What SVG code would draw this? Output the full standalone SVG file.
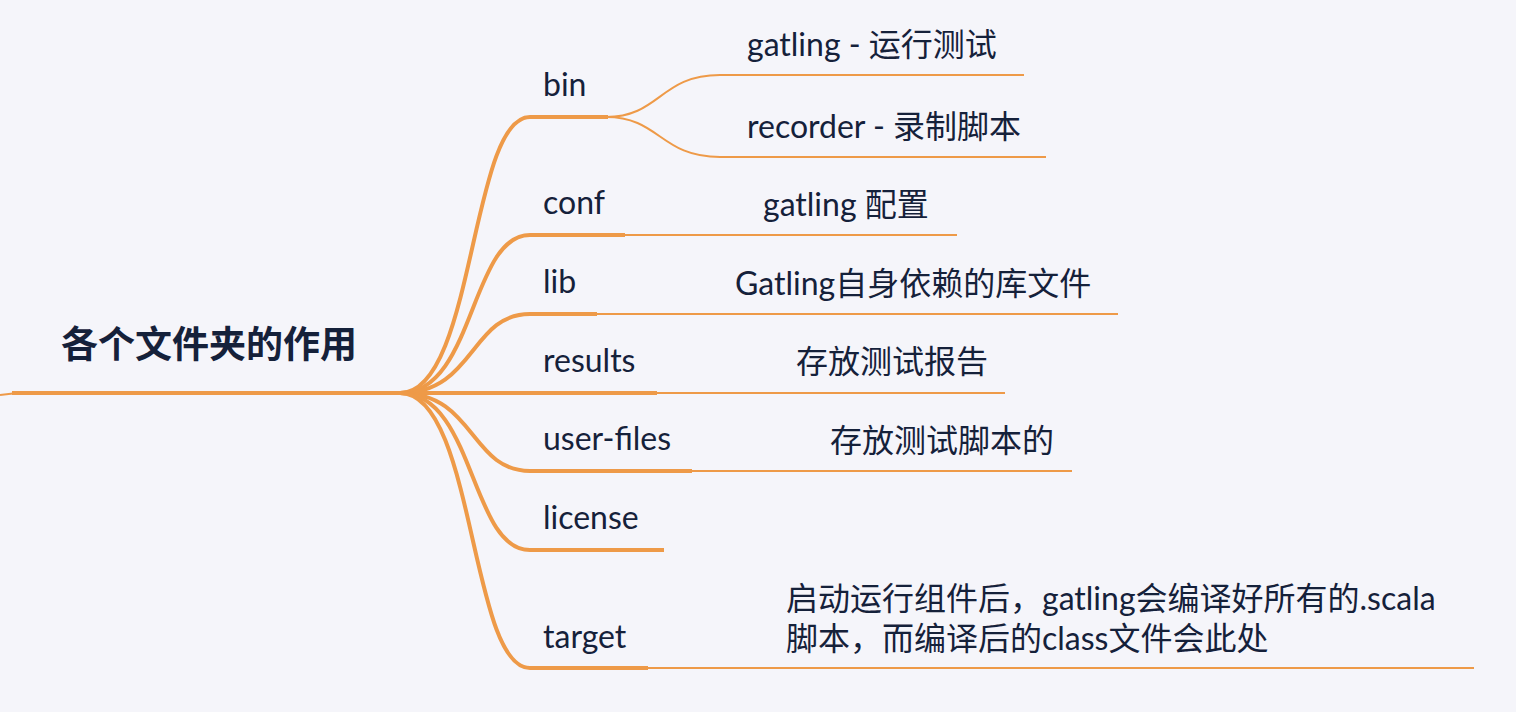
<svg xmlns="http://www.w3.org/2000/svg" width="1516" height="712" viewBox="0 0 1516 712">
<style>
.bg{fill:#f5f5fa}
.main{fill:none;stroke:#ee9a48;stroke-width:4;stroke-linecap:butt}
.thin{fill:none;stroke:#ee9a48;stroke-width:2}
.t{font-family:Lato,"Noto Sans CJK SC",sans-serif;font-size:32px;fill:#15213a}
.root{font-family:"Noto Sans CJK SC",sans-serif;font-size:37px;font-weight:bold;fill:#15213a}
</style>
<rect class="bg" x="0" y="0" width="1516" height="712"/>
<g id="connectors">
<path class="thin" d="M0,395 L13,393.5"/>
<path class="main" d="M12,393 L405,393"/>
<path class="main" d="M400,393 C475,393 470,117 530,117 L608,117"/>
<path class="main" d="M400,393 C475,393 470,235 530,235 L625,235"/>
<path class="main" d="M400,393 C475,393 470,314 530,314 L597,314"/>
<path class="main" d="M400,393 L657,393"/>
<path class="main" d="M400,393 C475,393 470,471 530,471 L692,471"/>
<path class="main" d="M400,393 C475,393 470,550 530,550 L664,550"/>
<path class="main" d="M400,393 C475,393 470,668 530,668 L648,668"/>
<path class="thin" d="M606,117 C660,117 660,75 720,75 L1024,75"/>
<path class="thin" d="M606,117 C660,117 660,157 720,157 L1046,157"/>
<path class="thin" d="M624,235 L957,235"/>
<path class="thin" d="M596,314 L1118,314"/>
<path class="thin" d="M656,393 L1005,393"/>
<path class="thin" d="M691,471 L1072,471"/>
<path class="thin" d="M647,668 L1474,668"/>
</g>
<g id="root"><text class="root" x="61" y="358">各个文件夹的作用</text></g>
<g id="bin"><text class="t" x="543" y="96">bin</text></g>
<g id="bin-gatling"><text class="t" x="747" y="56">gatling - 运行测试</text></g>
<g id="bin-recorder"><text class="t" x="747" y="138">recorder - 录制脚本</text></g>
<g id="conf"><text class="t" x="543" y="214">conf</text></g>
<g id="conf-child"><text class="t" x="763" y="216">gatling 配置</text></g>
<g id="lib"><text class="t" x="543" y="293">lib</text></g>
<g id="lib-child"><text class="t" x="735" y="295">Gatling自身依赖的库文件</text></g>
<g id="results"><text class="t" x="543" y="372">results</text></g>
<g id="results-child"><text class="t" x="796" y="373">存放测试报告</text></g>
<g id="user-files"><text class="t" x="543" y="450">user-files</text></g>
<g id="user-files-child"><text class="t" x="830" y="452">存放测试脚本的</text></g>
<g id="license"><text class="t" x="543" y="529">license</text></g>
<g id="target"><text class="t" x="543" y="648">target</text></g>
<g id="target-child"><text class="t" x="786" y="610">启动运行组件后，gatling会编译好所有的.scala</text><text class="t" x="786" y="650">脚本，而编译后的class文件会此处</text></g>
</svg>
